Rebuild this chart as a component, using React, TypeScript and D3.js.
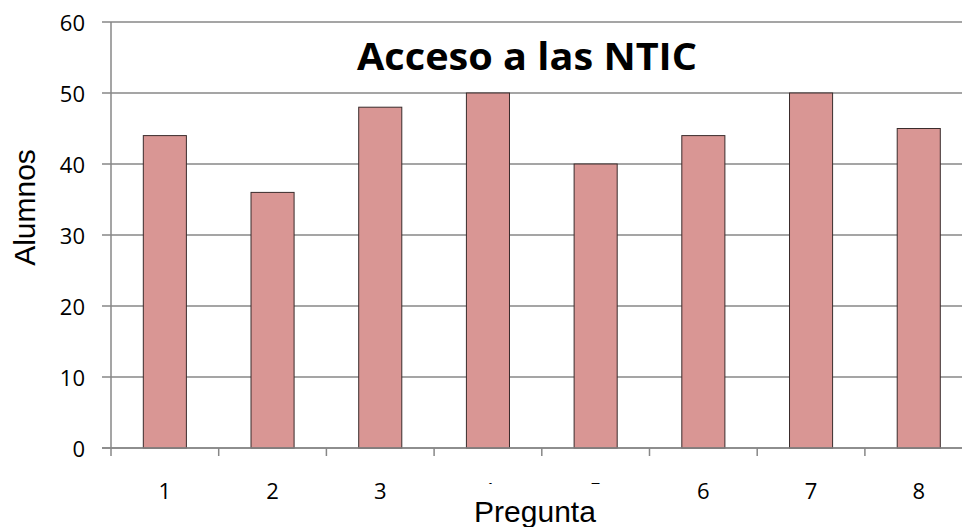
import React from "react";
import * as d3 from "d3";

const categories = ["1", "2", "3", "4", "5", "6", "7", "8"];
const values = [44, 36, 48, 50, 40, 44, 50, 45];
const yTicks = [0, 10, 20, 30, 40, 50, 60];
const title = "Acceso a las NTIC";
const xTitle = "Pregunta";
const yTitle = "Alumnos";

export default function App() {
  const W = 962;
  const H = 527;
  const left = 111;
  const right = 972.6;
  const top = 22;
  const bottom = 448;

  const x = d3.scaleBand<string>().domain(categories).range([left, right]).padding(0);
  const y = d3.scaleLinear().domain([0, 60]).range([bottom, top]);
  const bw = x.bandwidth();
  const barW = bw * 0.4;
  const grid = "#878787";
  const tickFont = "'Open Sans', 'Liberation Sans', sans-serif";

  return (
    <svg
      width={W}
      height={H}
      style={{ position: "fixed", left: 0, top: 0, background: "#fff" }}
      viewBox={`0 0 ${W} ${H}`}
    >
      <rect x={0} y={0} width={W} height={H} fill="#fff" />
      {yTicks.map((t) => (
        <g key={t}>
          <line x1={102} x2={W} y1={y(t)} y2={y(t)} stroke={grid} strokeWidth={1.5} />
          <text
            x={85}
            y={y(t) + 1}
            dy="0.36em"
            textAnchor="end"
            fontFamily={tickFont}
            fontSize={22}
            fill="#000"
          >
            {t}
          </text>
        </g>
      ))}
      <line x1={left} x2={left} y1={top} y2={bottom} stroke={grid} strokeWidth={1.5} />
      {categories.map((c, i) => (
        <line
          key={"t" + c}
          x1={left + i * bw}
          x2={left + i * bw}
          y1={bottom}
          y2={456}
          stroke={grid}
          strokeWidth={1.5}
        />
      ))}
      {categories.map((c, i) => (
        <rect
          key={"b" + c}
          x={(x(c) as number) + bw * 0.3}
          y={y(values[i])}
          width={barW}
          height={bottom - y(values[i])}
          fill="#D99694"
          stroke="#3a2c2c"
          strokeWidth={1}
        />
      ))}
      <line x1={102} x2={W} y1={bottom} y2={bottom} stroke={grid} strokeWidth={1.5} />
      {categories.map((c) => (
        <text
          key={"l" + c}
          x={(x(c) as number) + bw / 2}
          y={491}
          dy="0.36em"
          textAnchor="middle"
          fontFamily={tickFont}
          fontSize={22}
          fill="#000"
        >
          {c}
        </text>
      ))}
      <text
        x={527}
        y={69.5}
        textAnchor="middle"
        fontFamily="'Open Sans', sans-serif"
        fontWeight="bold"
        fontSize={38}
        textLength={340}
        lengthAdjust="spacingAndGlyphs"
        fill="#000"
      >
        {title}
      </text>
      <rect x={466} y={484} width={140} height={43} fill="#fff" />
      <text
        x={535}
        y={521.5}
        textAnchor="middle"
        fontFamily="'Liberation Sans', Arial, sans-serif"
        fontSize={30}
        fill="#000"
      >
        {xTitle}
      </text>
      <text
        transform="translate(35,207.5) rotate(-90)"
        textAnchor="middle"
        fontFamily="'Liberation Sans', Arial, sans-serif"
        fontSize={30}
        fill="#000"
      >
        {yTitle}
      </text>
    </svg>
  );
}
